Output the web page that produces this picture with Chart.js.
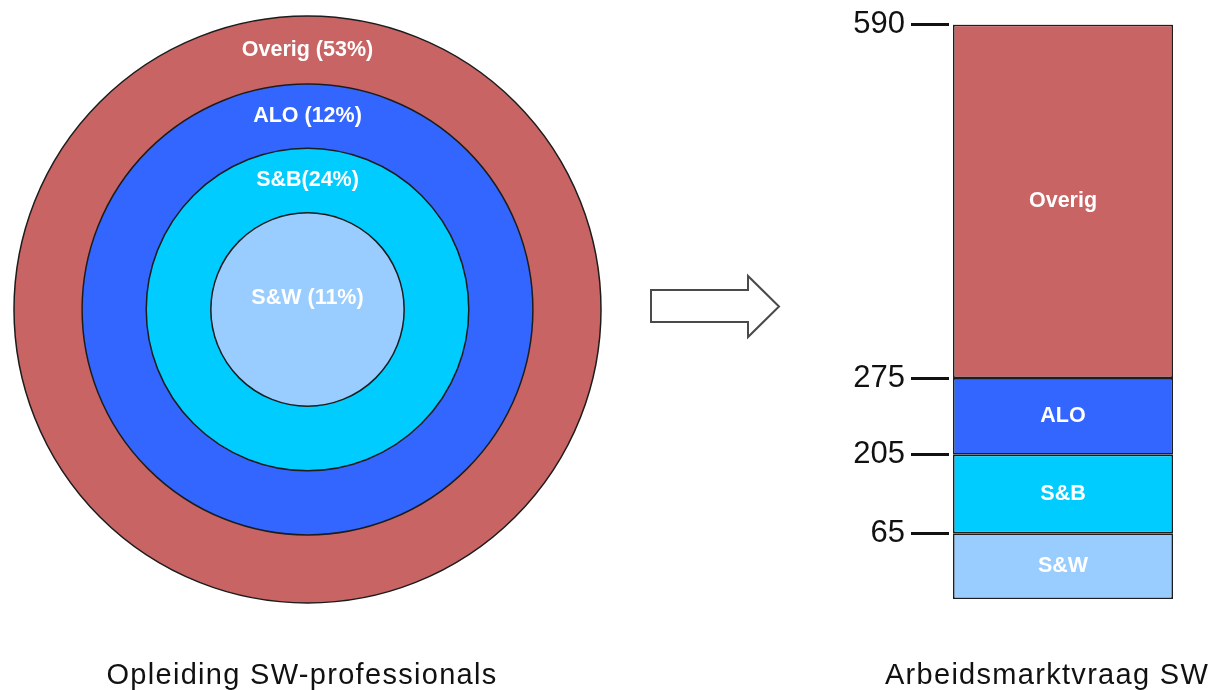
<!DOCTYPE html>
<html lang="nl">
<head>
<meta charset="utf-8">
<title>Opleiding en arbeidsmarktvraag SW</title>
<script src="https://cdn.jsdelivr.net/npm/chart.js@4.4.1/dist/chart.umd.min.js"></script>
<style>
  html, body { margin: 0; padding: 0; background: #fff; overflow: hidden; }
  body { width: 1219px; height: 690px; position: relative; font-family: 'Liberation Sans', Arial, sans-serif; }
  #ringen { position: absolute; left: 0; top: 0; }
  #vraag { position: absolute; left: 840px; top: 0; }
  #pijl { position: absolute; left: 0; top: 0; }
  .titel { position: absolute; top: 660px; font-size: 29px; line-height: 29px; letter-spacing: 1.3px;
           color: #111; white-space: nowrap; transform: translateX(-50%); }
</style>
</head>
<body>
<canvas id="ringen" width="615" height="620"></canvas>
<svg id="pijl" width="1219" height="690">
  <polygon points="651,290 748,290 748,276 779,306.5 748,337 748,322 651,322"
           fill="#fff" stroke="#4a4a4a" stroke-width="2" stroke-linejoin="miter"/>
</svg>
<canvas id="vraag" width="379" height="630"></canvas>
<div class="titel" style="left:302px">Opleiding SW-professionals</div>
<div class="titel" style="left:1047px">Arbeidsmarktvraag SW</div>

<script>
// Categorieen, van buiten naar binnen
const categories = ['Overig', 'ALO', 'S&B', 'S&W'];
const colors = ['#C86464', '#3366FF', '#00CCFF', '#99CCFF'];

// Opleiding: aandeel per richting (%)
const educationShare = [53, 12, 24, 11];
const ringLabels = ['Overig (53%)', 'ALO (12%)', 'S&B(24%)', 'S&W (11%)'];

// Arbeidsmarktvraag: segmenten van onder naar boven
const demandCats = ['S&W', 'S&B', 'ALO', 'Overig'];
const demandValues = [65, 140, 70, 315];
const demandColors = ['#99CCFF', '#00CCFF', '#3366FF', '#C86464'];
const yTicks = [65, 205, 275, 590];

Chart.defaults.font.family = "'Liberation Sans', Arial, sans-serif";
Chart.defaults.animation = false;

// Lineaire as in stukken: de tekening in het origineel is niet op schaal
class PiecewiseScale extends Chart.LinearScale {
    static id = 'piecewise';
    static defaults = {};

    toDecimal(v) {
        const vals = this.options.breakValues;
        const fr = this.options.breakFractions;
        for (let i = 1; i < vals.length; i++) {
            if (v <= vals[i] || i === vals.length - 1) {
                return fr[i - 1] + (v - vals[i - 1]) / (vals[i] - vals[i - 1]) * (fr[i] - fr[i - 1]);
            }
        }
        return 0;
    }

    getPixelForValue(value) {
        if (value === null || value === undefined) return NaN;
        return this.getPixelForDecimal(this.toDecimal(value));
    }

    getValueForPixel(pixel) {
        const d = this.getDecimalForPixel(pixel);
        const vals = this.options.breakValues;
        const fr = this.options.breakFractions;
        for (let i = 1; i < fr.length; i++) {
            if (d <= fr[i] || i === fr.length - 1) {
                return vals[i - 1] + (d - fr[i - 1]) / (fr[i] - fr[i - 1]) * (vals[i] - vals[i - 1]);
            }
        }
        return 0;
    }
}
Chart.register(PiecewiseScale);

// Cirkelranden en teksten op de ringen
const ringDecor = {
    id: 'ringDecor',
    afterDatasetsDraw(chart) {
        const c = chart.ctx;
        c.save();
        chart.data.datasets.forEach((ds, i) => {
            const arc = chart.getDatasetMeta(i).data[0];
            c.beginPath();
            c.arc(arc.x, arc.y, arc.outerRadius, 0, Math.PI * 2);
            c.lineWidth = 1.5;
            c.strokeStyle = '#1c1c1c';
            c.stroke();
        });
        c.fillStyle = '#fff';
        c.font = "bold 21.5px 'Liberation Sans', Arial, sans-serif";
        c.textAlign = 'center';
        c.textBaseline = 'middle';
        chart.data.datasets.forEach((ds, i) => {
            const arc = chart.getDatasetMeta(i).data[0];
            // binnenste cirkel: tekst net boven het midden
            const r = arc.innerRadius > 1
                ? (arc.innerRadius + arc.outerRadius) / 2
                : arc.outerRadius * 0.12;
            c.fillText(ds.label, arc.x, arc.y - r);
        });
        c.restore();
    }
};

// Teksten in de gestapelde balk
const barLabels = {
    id: 'barLabels',
    afterDatasetsDraw(chart) {
        const c = chart.ctx;
        c.save();
        c.fillStyle = '#fff';
        c.font = "bold 21.5px 'Liberation Sans', Arial, sans-serif";
        c.textAlign = 'center';
        c.textBaseline = 'middle';
        chart.data.datasets.forEach((ds, i) => {
            const bar = chart.getDatasetMeta(i).data[0];
            c.fillText(ds.label, bar.x, (bar.y + bar.base) / 2);
        });
        c.restore();
    }
};

const ringWeights = [68, 64, 64.5, 96.5];

new Chart(document.getElementById('ringen'), {
    type: 'doughnut',
    data: {
        labels: ['aandeel'],
        datasets: categories.map((cat, i) => ({
            label: ringLabels[i],
            data: [educationShare[i]],
            backgroundColor: colors[i],
            borderWidth: 0,
            weight: ringWeights[i]
        }))
    },
    options: {
        responsive: false,
        cutout: 0,
        events: [],
        layout: { padding: { left: 14, right: 14, top: 16, bottom: 17 } },
        plugins: { legend: { display: false }, tooltip: { enabled: false } }
    },
    plugins: [ringDecor]
});

new Chart(document.getElementById('vraag'), {
    type: 'bar',
    data: {
        labels: ['vraag'],
        datasets: demandCats.map((cat, i) => ({
            label: cat,
            data: [demandValues[i]],
            backgroundColor: demandColors[i],
            borderColor: '#1e1e1e',
            borderWidth: 1.6,
            borderSkipped: false,
            barPercentage: 220 / 228,
            categoryPercentage: 1
        }))
    },
    options: {
        responsive: false,
        events: [],
        layout: { padding: { left: 9, right: 42, top: 21, bottom: 31 } },
        plugins: { legend: { display: false }, tooltip: { enabled: false } },
        scales: {
            x: { stacked: true, display: false },
            y: {
                type: 'piecewise',
                stacked: true,
                min: 0,
                max: 590,
                breakValues: [0, ...yTicks],
                breakFractions: [0, 0.1144, 0.2513, 0.3847, 1],
                afterBuildTicks: axis => { axis.ticks = yTicks.map(v => ({ value: v })); },
                afterFit: axis => { axis.width = 100; },
                border: { display: false },
                grid: {
                    drawOnChartArea: false,
                    drawTicks: true,
                    tickLength: 38,
                    tickWidth: 3,
                    tickColor: '#111'
                },
                ticks: {
                    autoSkip: false,
                    padding: 6,
                    color: '#111',
                    font: { size: 31 },
                    callback: v => String(v)
                }
            }
        }
    },
    plugins: [barLabels]
});
</script>
</body>
</html>
